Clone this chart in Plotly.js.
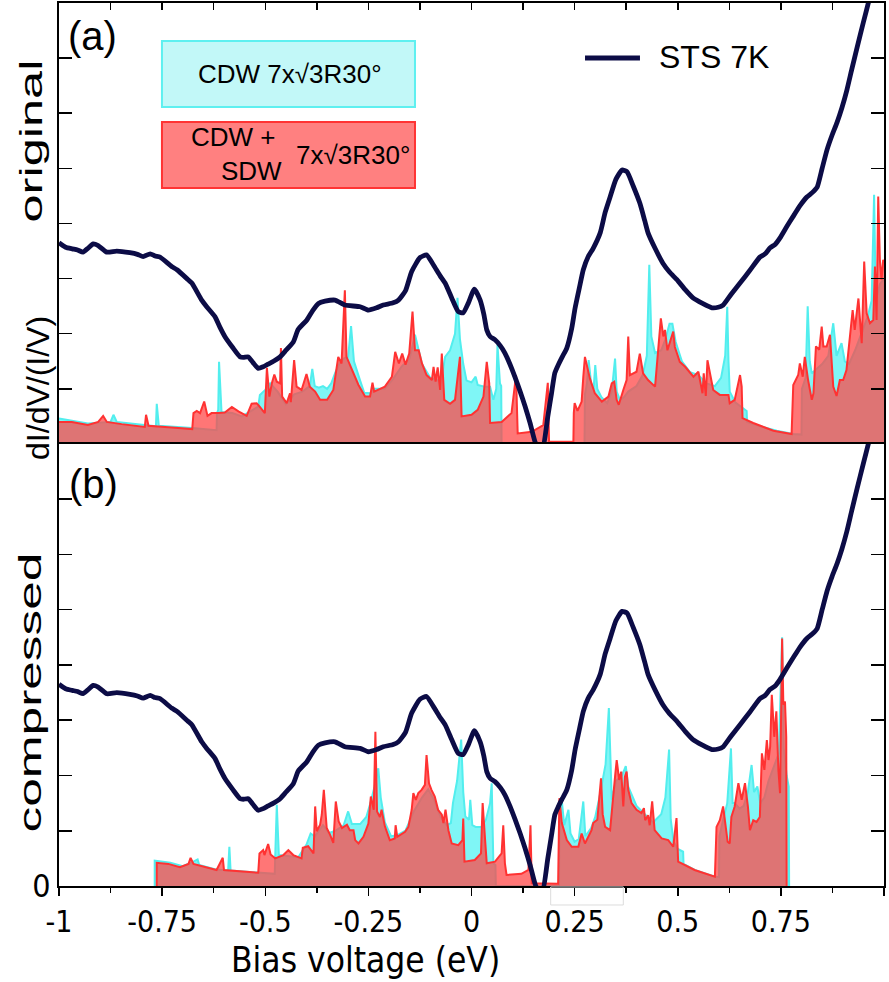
<!DOCTYPE html>
<html>
<head>
<meta charset="utf-8">
<script src="https://cdn.plot.ly/plotly-3.0.1.min.js"></script>
<style>html,body{margin:0;padding:0;background:#fff;}#chart{width:889px;height:982px;}</style>
</head>
<body>
<div id="chart"></div>
<script>
// ---------------- DATA ----------------
const xTickVals = [-1, -0.75, -0.5, -0.25, 0, 0.25, 0.5, 0.75, 1];
const xTickText = ['-1', '-0.75', '-0.5', '-0.25', '0', '0.25', '0.5', '0.75', '1'];
const yTickVals = [0, 1, 2, 3, 4, 5, 6, 7, 8];
const yTickTextB = ['0', '', '', '', '', '', '', '', ''];

// STS 7K measured spectrum (same curve in both panels)
const stsX = [-1.0,-0.984,-0.968,-0.955,-0.942,-0.93,-0.917,-0.905,-0.884,-0.86,-0.828,-0.81,-0.796,-0.779,-0.767,-0.755,-0.727,-0.714,-0.687,-0.678,-0.654,-0.642,-0.622,-0.61,-0.598,-0.578,-0.561,-0.553,-0.541,-0.530,-0.517,-0.505,-0.493,-0.480,-0.464,-0.452,-0.432,-0.42,-0.399,-0.385,-0.371,-0.355,-0.331,-0.307,-0.27,-0.25,-0.23,-0.214,-0.19,-0.177,-0.16,-0.145,-0.125,-0.109,-0.09,-0.076,-0.064,-0.048,-0.032,-0.020,-0.008,0.007,0.021,0.030,0.037,0.045,0.057,0.07,0.081,0.093,0.105,0.118,0.130,0.142,0.154,0.163,0.172,0.185,0.194,0.202,0.210,0.220,0.231,0.243,0.251,0.262,0.271,0.283,0.295,0.312,0.324,0.336,0.350,0.365,0.377,0.392,0.408,0.420,0.428,0.445,0.464,0.480,0.498,0.518,0.537,0.560,0.583,0.598,0.610,0.630,0.651,0.675,0.699,0.712,0.724,0.736,0.748,0.764,0.779,0.796,0.813,0.826,0.838,0.850,0.862,0.874,0.886,0.898,0.910,0.922,0.935,0.950,0.964,0.99];
const stsY = [3.65,3.57,3.54,3.52,3.48,3.55,3.63,3.60,3.48,3.50,3.47,3.44,3.40,3.45,3.41,3.39,3.22,3.16,2.98,2.92,2.61,2.49,2.31,2.12,1.95,1.74,1.58,1.57,1.58,1.48,1.37,1.40,1.45,1.50,1.58,1.68,1.85,2.08,2.25,2.42,2.55,2.59,2.61,2.52,2.49,2.43,2.47,2.52,2.56,2.61,2.78,3.13,3.38,3.43,3.22,3.05,2.92,2.65,2.40,2.38,2.55,2.81,2.61,2.35,2.07,1.95,1.89,1.78,1.65,1.45,1.22,0.95,0.68,0.38,0.04,-0.1,-0.1,0.5,0.92,1.29,1.43,1.58,1.74,2.10,2.46,2.85,3.16,3.40,3.55,3.83,4.20,4.48,4.80,4.97,4.94,4.68,4.37,4.05,3.83,3.55,3.28,3.12,2.98,2.80,2.65,2.55,2.47,2.48,2.52,2.72,2.92,3.15,3.39,3.45,3.56,3.62,3.74,3.94,4.12,4.32,4.48,4.56,4.66,5.0,5.34,5.60,5.83,6.10,6.42,6.80,7.20,7.65,8.06,8.9];

// (a) original: CDW 7x√3R30° [x, value]
const cdwOriginal = [[-1.0,0.46],[-0.93,0.37],[-0.875,0.40],[-0.868,0.53],[-0.86,0.40],[-0.79,0.34],[-0.765,0.32],[-0.763,0.73],[-0.758,0.33],[-0.677,0.29],[-0.618,0.25],[-0.617,0.56],[-0.614,0.62],[-0.612,1.49],[-0.606,0.58],[-0.58,0.56],[-0.557,0.50],[-0.53,0.62],[-0.517,0.68],[-0.513,0.89],[-0.5,0.98],[-0.488,1.10],[-0.47,0.95],[-0.45,0.72],[-0.43,0.90],[-0.41,0.95],[-0.392,1.05],[-0.386,1.36],[-0.38,1.05],[-0.37,1.02],[-0.36,1.05],[-0.35,1.00],[-0.34,1.10],[-0.33,1.30],[-0.32,1.46],[-0.31,1.55],[-0.299,1.58],[-0.292,2.14],[-0.285,1.50],[-0.27,1.15],[-0.26,0.93],[-0.245,0.92],[-0.236,1.0],[-0.21,1.0],[-0.19,1.18],[-0.17,1.40],[-0.15,1.55],[-0.137,1.98],[-0.13,1.75],[-0.12,1.45],[-0.10,1.20],[-0.08,1.15],[-0.07,1.30],[-0.064,1.58],[-0.052,1.70],[-0.040,2.0],[-0.034,2.65],[-0.028,1.90],[-0.020,1.45],[-0.012,1.15],[0.0,1.12],[0.010,1.22],[0.015,1.07],[0.032,1.04],[0.045,1.04],[0.053,0.80],[0.060,1.0],[0.063,1.80],[0.069,1.10],[0.072,1.05],[0.073,0],[0.274,0],[0.275,0.9],[0.280,1.1],[0.284,1.52],[0.29,1.1],[0.296,1.0],[0.30,1.43],[0.305,1.0],[0.315,0.85],[0.329,0.74],[0.340,0.95],[0.348,1.55],[0.352,0.95],[0.36,0.80],[0.37,0.85],[0.38,0.95],[0.40,1.05],[0.415,1.25],[0.425,1.6],[0.431,3.25],[0.436,1.95],[0.445,1.65],[0.46,1.70],[0.47,1.9],[0.480,2.18],[0.487,2.18],[0.495,1.85],[0.51,1.50],[0.53,1.30],[0.55,1.25],[0.57,1.1],[0.59,1.05],[0.605,1.2],[0.615,1.6],[0.620,2.49],[0.623,1.5],[0.626,0.95],[0.64,0.75],[0.66,0.65],[0.667,0.6],[0.668,0.40],[0.70,0.32],[0.74,0.24],[0.78,0.18],[0.80,0.17],[0.801,1.0],[0.81,1.2],[0.815,2.50],[0.82,1.5],[0.825,1.28],[0.835,1.35],[0.85,1.45],[0.865,1.6],[0.877,2.19],[0.885,1.6],[0.897,1.83],[0.905,1.5],[0.915,1.45],[0.93,1.7],[0.945,2.0],[0.96,2.3],[0.97,2.6],[0.976,4.52],[0.98,2.6],[0.99,2.9],[1.0,3.0]];

// (a) original: CDW + SDW 7x√3R30°
const sdwOriginal = [[-1.0,0.40],[-0.969,0.40],[-0.93,0.345],[-0.905,0.40],[-0.893,0.51],[-0.884,0.40],[-0.848,0.36],[-0.792,0.31],[-0.789,0.53],[-0.783,0.33],[-0.727,0.30],[-0.677,0.27],[-0.674,0.56],[-0.666,0.60],[-0.658,0.56],[-0.648,0.77],[-0.640,0.51],[-0.630,0.56],[-0.614,0.56],[-0.598,0.57],[-0.581,0.67],[-0.565,0.59],[-0.545,0.51],[-0.533,0.73],[-0.521,0.74],[-0.517,0.71],[-0.501,0.56],[-0.496,1.38],[-0.490,0.86],[-0.484,1.10],[-0.478,1.26],[-0.472,1.13],[-0.464,1.10],[-0.462,1.74],[-0.459,0.86],[-0.448,0.74],[-0.440,0.92],[-0.438,0.76],[-0.430,1.52],[-0.424,1.04],[-0.412,0.98],[-0.400,1.27],[-0.392,1.04],[-0.379,0.95],[-0.367,0.80],[-0.350,0.80],[-0.335,0.98],[-0.323,1.58],[-0.315,1.46],[-0.307,2.79],[-0.303,1.58],[-0.290,1.34],[-0.274,1.07],[-0.258,0.86],[-0.246,0.86],[-0.240,1.11],[-0.236,0.95],[-0.210,1.04],[-0.193,1.22],[-0.185,1.67],[-0.176,1.46],[-0.168,1.64],[-0.160,1.44],[-0.151,1.64],[-0.143,2.40],[-0.137,1.70],[-0.128,1.70],[-0.120,1.46],[-0.109,1.25],[-0.096,1.16],[-0.092,1.40],[-0.087,1.13],[-0.082,1.39],[-0.076,0.98],[-0.072,1.64],[-0.066,0.80],[-0.052,0.73],[-0.040,0.80],[-0.028,1.58],[-0.024,0.50],[0.0,0.53],[0.015,0.62],[0.029,0.86],[0.037,1.49],[0.043,1.10],[0.045,0.38],[0.073,0.40],[0.097,0.56],[0.108,1.25],[0.112,0.19],[0.146,0.22],[0.174,0.34],[0.185,1.11],[0.188,0.04],[0.247,0.04],[0.248,0.56],[0.250,0.74],[0.257,0.60],[0.267,0.77],[0.271,1.22],[0.275,1.58],[0.287,1.19],[0.299,0.92],[0.316,0.77],[0.332,0.86],[0.340,1.10],[0.346,1.13],[0.352,0.80],[0.357,0.71],[0.368,0.98],[0.376,1.16],[0.380,1.95],[0.384,1.25],[0.400,1.31],[0.408,1.64],[0.416,1.28],[0.428,1.16],[0.445,1.04],[0.451,1.58],[0.459,2.28],[0.465,1.95],[0.469,2.07],[0.475,1.70],[0.489,2.04],[0.493,1.76],[0.505,1.49],[0.518,1.40],[0.538,1.22],[0.550,1.31],[0.560,0.92],[0.563,1.28],[0.568,0.87],[0.572,1.52],[0.586,0.98],[0.602,0.89],[0.623,0.89],[0.626,0.74],[0.638,0.80],[0.651,1.25],[0.655,1.04],[0.657,0.47],[0.683,0.38],[0.732,0.24],[0.776,0.18],[0.780,1.07],[0.792,1.25],[0.796,1.46],[0.803,1.22],[0.808,1.58],[0.816,1.16],[0.825,0.80],[0.829,0.92],[0.835,1.77],[0.843,1.71],[0.849,2.13],[0.853,1.77],[0.861,1.77],[0.869,1.98],[0.877,1.04],[0.885,0.87],[0.893,1.16],[0.901,1.16],[0.909,1.34],[0.918,2.07],[0.924,2.43],[0.929,2.07],[0.938,2.64],[0.946,1.83],[0.952,3.31],[0.958,2.37],[0.966,2.19],[0.974,2.25],[0.978,3.22],[0.982,2.25],[0.986,4.49],[0.990,3.34],[0.994,2.98],[0.998,3.34],[1.0,3.3]];

// (b) compressed: CDW 7x√3R30°
const cdwCompressed = [[-0.768,0],[-0.768,0.46],[-0.73,0.42],[-0.70,0.36],[-0.68,0.42],[-0.664,0.48],[-0.66,0.38],[-0.62,0.30],[-0.59,0.28],[-0.587,0.71],[-0.584,0.28],[-0.52,0.24],[-0.477,0.22],[-0.476,0.50],[-0.472,1.47],[-0.467,0.56],[-0.45,0.55],[-0.42,0.52],[-0.40,0.75],[-0.39,0.95],[-0.38,0.9],[-0.36,1.1],[-0.345,0.96],[-0.33,1.0],[-0.31,1.1],[-0.299,1.35],[-0.29,1.12],[-0.27,1.12],[-0.255,1.25],[-0.245,1.50],[-0.235,1.8],[-0.226,2.13],[-0.22,1.6],[-0.21,1.15],[-0.195,0.90],[-0.18,0.92],[-0.16,1.0],[-0.14,1.35],[-0.12,1.6],[-0.105,1.75],[-0.09,1.55],[-0.075,1.25],[-0.06,1.10],[-0.05,1.14],[-0.045,1.50],[-0.035,1.9],[-0.025,2.65],[-0.02,1.7],[-0.015,1.26],[-0.006,1.2],[-0.003,1.56],[0.002,1.1],[0.01,1.07],[0.024,1.07],[0.035,1.2],[0.045,1.5],[0.049,1.86],[0.053,0.41],[0.058,0.38],[0.059,0],[0.212,0],[0.213,0.9],[0.219,1.53],[0.225,1.1],[0.235,1.38],[0.24,0.95],[0.25,0.80],[0.26,0.85],[0.271,1.53],[0.276,0.9],[0.29,1.05],[0.30,1.25],[0.31,1.6],[0.325,2.2],[0.333,3.22],[0.340,1.56],[0.35,1.9],[0.365,2.0],[0.374,2.17],[0.38,1.8],[0.40,1.45],[0.42,1.3],[0.44,1.15],[0.46,1.3],[0.47,1.6],[0.479,2.47],[0.483,1.2],[0.49,0.8],[0.50,0.67],[0.513,0.62],[0.514,0.40],[0.541,0.29],[0.590,0.17],[0.60,0.16],[0.601,0.9],[0.61,1.2],[0.62,1.5],[0.629,2.49],[0.633,1.5],[0.638,1.50],[0.65,1.4],[0.66,1.45],[0.67,1.7],[0.679,2.19],[0.685,1.7],[0.693,1.80],[0.70,1.5],[0.71,1.6],[0.72,1.9],[0.735,2.2],[0.745,2.4],[0.753,4.50],[0.757,2.5],[0.764,2.0],[0.769,1.8],[0.770,0]];

// (b) compressed: CDW + SDW 7x√3R30°
const sdwCompressed = [[-0.763,0],[-0.763,0.42],[-0.735,0.40],[-0.707,0.34],[-0.686,0.40],[-0.681,0.51],[-0.674,0.40],[-0.618,0.29],[-0.603,0.51],[-0.600,0.29],[-0.517,0.24],[-0.514,0.59],[-0.505,0.65],[-0.502,0.56],[-0.493,0.76],[-0.487,0.57],[-0.476,0.50],[-0.456,0.56],[-0.444,0.65],[-0.432,0.56],[-0.412,0.50],[-0.409,0.69],[-0.396,0.72],[-0.383,0.59],[-0.379,1.44],[-0.375,0.99],[-0.367,1.11],[-0.363,1.29],[-0.358,1.74],[-0.351,1.05],[-0.343,0.93],[-0.335,0.78],[-0.329,1.53],[-0.322,1.17],[-0.314,1.05],[-0.302,1.11],[-0.295,1.01],[-0.286,1.01],[-0.282,0.83],[-0.274,0.77],[-0.262,0.89],[-0.250,1.13],[-0.244,1.62],[-0.237,1.38],[-0.233,2.79],[-0.229,1.35],[-0.222,1.25],[-0.218,1.38],[-0.210,1.08],[-0.198,0.83],[-0.186,0.86],[-0.184,1.10],[-0.180,0.89],[-0.161,0.98],[-0.153,1.07],[-0.145,1.38],[-0.141,1.68],[-0.135,1.56],[-0.129,1.68],[-0.121,1.74],[-0.113,1.83],[-0.109,2.37],[-0.103,1.86],[-0.097,1.74],[-0.089,1.62],[-0.081,1.38],[-0.072,1.29],[-0.068,1.14],[-0.063,1.38],[-0.056,1.01],[-0.048,0.77],[-0.032,0.74],[-0.022,0.83],[-0.020,1.22],[-0.017,0.44],[0.008,0.47],[0.023,0.59],[0.027,1.50],[0.033,0.83],[0.037,0.41],[0.057,0.44],[0.073,0.59],[0.077,1.10],[0.081,0.41],[0.085,0.20],[0.121,0.22],[0.138,0.29],[0.143,1.10],[0.146,0.05],[0.210,0.04],[0.213,1.59],[0.219,1.14],[0.231,0.83],[0.243,0.71],[0.259,0.71],[0.267,0.95],[0.275,0.77],[0.291,1.01],[0.295,1.14],[0.305,1.2],[0.314,1.95],[0.318,1.3],[0.324,1.07],[0.336,1.01],[0.348,1.98],[0.352,2.28],[0.358,1.92],[0.363,2.07],[0.368,1.44],[0.372,1.98],[0.376,2.07],[0.380,1.74],[0.388,1.50],[0.400,1.38],[0.412,1.32],[0.418,1.41],[0.421,1.19],[0.428,1.28],[0.432,1.10],[0.438,1.53],[0.444,1.01],[0.461,0.86],[0.477,0.83],[0.489,0.71],[0.497,1.23],[0.501,0.44],[0.541,0.29],[0.590,0.17],[0.594,1.07],[0.602,1.19],[0.610,1.44],[0.615,1.19],[0.621,0.80],[0.626,0.77],[0.630,1.25],[0.638,1.44],[0.647,1.86],[0.655,1.56],[0.663,1.86],[0.670,1.44],[0.675,1.01],[0.683,1.19],[0.691,1.16],[0.699,1.25],[0.704,2.40],[0.710,2.10],[0.716,2.64],[0.720,2.28],[0.724,2.52],[0.728,3.46],[0.734,2.70],[0.739,3.16],[0.744,2.10],[0.748,1.68],[0.753,4.48],[0.756,3.28],[0.760,3.34],[0.763,2.70],[0.764,0]];

// ---------------- STYLE ----------------
const FONT = 'Arial, "Liberation Sans", sans-serif';
const NARROW = '"Liberation Sans Narrow", "Arial Narrow", "DejaVu Sans Condensed", Arial, sans-serif';
const STS_COLOR = '#0c0c46';
const CYAN_LINE = '#52eeee';
const CYAN_FILL = 'rgba(0,238,238,0.5)';
const RED_LINE = '#ff3232';
const RED_FILL = 'rgba(255,70,70,0.74)';

function fillTrace(pairs, xa, ya, lineColor, fillColor) {
  return {
    type: 'scatter', mode: 'lines',
    x: pairs.map(p => p[0]), y: pairs.map(p => p[1]),
    xaxis: xa, yaxis: ya,
    fill: 'tozeroy', fillcolor: fillColor,
    line: {color: lineColor, width: 2, shape: 'linear'},
    hoverinfo: 'skip'
  };
}
function stsTrace(xa, ya) {
  return {
    type: 'scatter', mode: 'lines', x: stsX, y: stsY, xaxis: xa, yaxis: ya,
    line: {color: STS_COLOR, width: 4.8, shape: 'spline', smoothing: 0.5},
    hoverinfo: 'skip'
  };
}

const data = [
  fillTrace(cdwOriginal, 'x', 'y', CYAN_LINE, CYAN_FILL),
  fillTrace(sdwOriginal, 'x', 'y', RED_LINE, RED_FILL),
  stsTrace('x', 'y'),
  fillTrace(cdwCompressed, 'x2', 'y2', CYAN_LINE, CYAN_FILL),
  fillTrace(sdwCompressed, 'x2', 'y2', RED_LINE, RED_FILL),
  stsTrace('x2', 'y2')
];

const SPLIT = 0.5006;
const axCommon = {showgrid: false, zeroline: false, showline: true, linecolor: 'black', linewidth: 2, tickcolor: 'black', tickwidth: 1.5};

const layout = {
  width: 889, height: 982,
  margin: {l: 59, r: 5, t: 3, b: 96, pad: 0},
  paper_bgcolor: 'white', plot_bgcolor: 'white',
  showlegend: false,
  font: {family: FONT, color: 'black'},
  xaxis: Object.assign({}, axCommon, {domain: [0, 1], anchor: 'y', side: 'top', range: [-1, 1], ticks: 'inside', ticklen: 7, tick0: -1, dtick: 0.125, showticklabels: false, mirror: false}),
  yaxis: Object.assign({}, axCommon, {domain: [SPLIT, 1], anchor: 'x', range: [0, 8], ticks: 'inside', ticklen: 13, tickvals: yTickVals, showticklabels: false, mirror: 'ticks'}),
  xaxis2: Object.assign({}, axCommon, {domain: [0, 1], anchor: 'y2', range: [-1, 1], ticks: 'outside', ticklen: 8, tickvals: xTickVals, ticktext: xTickText, tickfont: {family: NARROW, size: 30, color: 'black'}, mirror: true,
    minor: {tick0: -1, dtick: 0.125, ticks: 'outside', ticklen: 5, tickwidth: 1.5, tickcolor: 'black', showgrid: false}}),
  xaxis3: {overlaying: 'x2', anchor: 'y2', side: 'top', range: [-1, 1], ticks: 'inside', ticklen: 9, tickwidth: 1.5, tickcolor: 'black', tick0: -1, dtick: 0.125, showticklabels: false, showline: false, showgrid: false, zeroline: false},
  yaxis2: Object.assign({}, axCommon, {domain: [0, SPLIT], anchor: 'x2', range: [0, 8], ticks: 'inside', ticklen: 13, tickvals: yTickVals, ticktext: yTickTextB, tickfont: {family: NARROW, size: 32, color: 'black'}, mirror: 'ticks'}),
  shapes: [
    {type: 'rect', xref: 'paper', yref: 'paper', x0: 0.1248, x1: 0.4315, y0: 0.8822, y1: 0.957, fillcolor: '#c2f8f8', line: {color: '#5ef0f0', width: 2}, layer: 'above'},
    {type: 'rect', xref: 'paper', yref: 'paper', x0: 0.1248, x1: 0.4315, y0: 0.7905, y1: 0.8652, fillcolor: '#ff8080', line: {color: '#ff3434', width: 2}, layer: 'above'},
    {type: 'line', xref: 'paper', yref: 'paper', x0: 0.6376, x1: 0.7042, y0: 0.9377, y1: 0.9377, line: {color: STS_COLOR, width: 5}, layer: 'above'},
    {type: 'rect', xref: 'paper', yref: 'paper', x0: 0.596, x1: 0.684, y0: -0.0215, y1: -0.0011, line: {color: '#dcdcdc', width: 1}, layer: 'above'}
  ],
  annotations: [
    {text: '(a)', xref: 'paper', yref: 'paper', x: 0.0412, y: 0.9626, showarrow: false, xanchor: 'center', yanchor: 'middle', font: {family: FONT, size: 40}},
    {text: '(b)', xref: 'paper', yref: 'paper', x: 0.0424, y: 0.4553, showarrow: false, xanchor: 'center', yanchor: 'middle', font: {family: FONT, size: 40}},
    {text: 'original', xref: 'paper', yref: 'paper', x: -0.0339, y: 0.8437, showarrow: false, textangle: -90, xanchor: 'center', yanchor: 'middle', font: {family: FONT, size: 31}},
    {text: 'compressed', xref: 'paper', yref: 'paper', x: -0.0339, y: 0.2186, showarrow: false, textangle: -90, xanchor: 'center', yanchor: 'middle', font: {family: FONT, size: 31}},
    {text: 'dI/dV/(I/V)', xref: 'paper', yref: 'paper', x: -0.0255, y: 0.564, showarrow: false, textangle: -90, xanchor: 'center', yanchor: 'middle', font: {family: FONT, size: 32}},
    {text: 'CDW 7x√3R30°', xref: 'paper', yref: 'paper', x: 0.28, y: 0.9196, showarrow: false, xanchor: 'center', yanchor: 'middle', font: {family: FONT, size: 26}},
    {text: 'CDW +', xref: 'paper', yref: 'paper', x: 0.2121, y: 0.8482, showarrow: false, xanchor: 'center', yanchor: 'middle', font: {family: FONT, size: 26}},
    {text: 'SDW', xref: 'paper', yref: 'paper', x: 0.2339, y: 0.8097, showarrow: false, xanchor: 'center', yanchor: 'middle', font: {family: FONT, size: 26}},
    {text: '7x√3R30°', xref: 'paper', yref: 'paper', x: 0.3564, y: 0.8279, showarrow: false, xanchor: 'center', yanchor: 'middle', font: {family: FONT, size: 26}},
    {text: 'STS 7K', xref: 'paper', yref: 'paper', x: 0.7248, y: 0.9388, showarrow: false, xanchor: 'left', yanchor: 'middle', font: {family: FONT, size: 32}},
    {text: 'Bias voltage (eV)', xref: 'paper', yref: 'paper', x: 0.3721, y: -0.0835, showarrow: false, xanchor: 'center', yanchor: 'middle', font: {family: NARROW, size: 35}}
  ]
};

// stretched rotated panel labels (as in the reference)
const STRETCH = {'original': 163, 'compressed': 280};

Plotly.newPlot('chart', data, layout, {staticPlot: true, displayModeBar: false}).then(function (gd) {
  gd.querySelectorAll('text.annotation-text').forEach(function (t) {
    const L = STRETCH[t.textContent];
    if (L) { t.setAttribute('textLength', L); t.setAttribute('lengthAdjust', 'spacingAndGlyphs'); }
  });
});
</script>
</body>
</html>
